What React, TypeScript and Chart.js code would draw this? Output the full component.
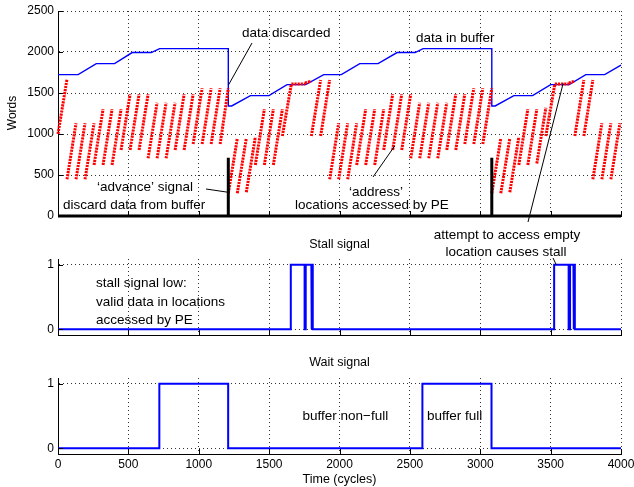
import React, { useEffect, useRef } from 'react';
import { Chart, registerables } from 'chart.js';

Chart.register(...registerables);

const FONT = '"Liberation Sans", Arial, Helvetica, sans-serif';
const GRID = 'rgba(0,0,0,0.8)';

// ---------------- data ----------------
const cycleTicks = [0, 500, 1000, 1500, 2000, 2500, 3000, 3500, 4000];
const wordTicks = [0, 500, 1000, 1500, 2000, 2500];
const signalTicks = [0, 1];

// data in buffer (blue)
const bufferT = [0, 143, 272, 402, 527, 663, 722, 1210, 1210, 1234, 1367, 1499, 1627, 1760, 1888, 2013, 2144, 2274, 2409, 2537, 2594, 3082, 3082, 3106, 3239, 3372, 3500, 3632, 3750, 3884, 4000];
const bufferWords = [1724, 1724, 1858, 1858, 1993, 1993, 2041, 2041, 1342, 1342, 1468, 1468, 1602, 1602, 1724, 1724, 1858, 1858, 1993, 1993, 2041, 2041, 1342, 1342, 1468, 1468, 1602, 1602, 1724, 1724, 1840];

// 'address' bursts (red): start cycle, end cycle, low word, high word
const addrStart = [0, 64, 128, 192, 256, 320, 384, 448, 512, 576, 640, 704, 768, 832, 896, 960, 1024, 1088, 1152,
  1210, 1274, 1338, 1402, 1466, 1530, 1594, 1658, 1755, 1800, 1866, 1930, 1994, 2058, 2122, 2186, 2250, 2314, 2378, 2442, 2506, 2570, 2634, 2698, 2762, 2826, 2890, 2954, 3018,
  3082, 3146, 3210, 3274, 3338, 3402, 3466, 3530, 3630, 3672, 3736, 3800, 3864, 3928];
const addrEnd = [64, 128, 192, 256, 320, 384, 448, 512, 576, 640, 704, 768, 832, 896, 960, 1024, 1088, 1152, 1210,
  1274, 1338, 1402, 1466, 1530, 1594, 1658, 1755, 1800, 1866, 1930, 1994, 2058, 2122, 2186, 2250, 2314, 2378, 2442, 2506, 2570, 2634, 2698, 2762, 2826, 2890, 2954, 3018, 3082,
  3146, 3210, 3274, 3338, 3402, 3466, 3530, 3630, 3672, 3736, 3800, 3864, 3928, 3992];
const addrLow = [1000, 447, 447, 447, 622, 622, 622, 805, 805, 805, 703, 703, 703, 805, 805, 877, 877, 877, 877,
  277, 277, 290, 622, 622, 622, 975, 1610, 1622, 975, 975, 447, 447, 447, 622, 622, 622, 805, 805, 805, 703, 703, 703, 703, 805, 805, 877, 877, 877,
  277, 277, 290, 622, 622, 640, 975, 1610, 1622, 975, 975, 447, 447, 447];
const addrHigh = [1670, 1130, 1130, 1130, 1301, 1301, 1301, 1484, 1484, 1484, 1382, 1382, 1382, 1484, 1484, 1557, 1557, 1557, 1557,
  947, 947, 963, 1301, 1301, 1301, 1610, 1610, 1645, 1658, 1658, 1130, 1130, 1130, 1301, 1301, 1301, 1484, 1484, 1484, 1382, 1382, 1382, 1382, 1484, 1484, 1557, 1557, 1557,
  947, 947, 963, 1301, 1301, 1320, 1610, 1610, 1645, 1658, 1658, 1130, 1130, 1130];

// 'advance' signal (black)
const advanceT = [0, 1210, 1210, 1210, 3082, 3082, 3082, 4000];
const advanceWords = [0, 0, 711, 0, 0, 711, 0, 0];

// stall signal
const stallT = [0, 1654, 1654, 1752, 1752, 1760, 1760, 1800, 1800, 1804, 1804, 1810, 1810, 3525, 3525, 3628, 3628, 3638, 3638, 3662, 3662, 3666, 3666, 3672, 3672, 4000];
const stallV = [0, 0, 1, 1, 0, 0, 1, 1, 0, 0, 1, 1, 0, 0, 1, 1, 0, 0, 1, 1, 0, 0, 1, 1, 0, 0];

// wait signal
const waitT = [0, 720, 720, 1209, 1209, 2589, 2589, 3080, 3080, 4000];
const waitV = [0, 0, 1, 1, 0, 0, 1, 1, 0, 0];

// ---------------- helpers ----------------
function pts(xs: number[], ys: number[]) {
  return xs.map((x, i) => ({ x, y: ys[i] }));
}

function addressPoints() {
  const out: { x: number; y: number | null }[] = [];
  for (let i = 0; i < addrStart.length; i++) {
    out.push({ x: addrStart[i], y: addrLow[i] });
    out.push({ x: addrEnd[i], y: addrHigh[i] });
    out.push({ x: addrEnd[i], y: null });
  }
  return out;
}

type Note = { text: string; x: number; y: number; align?: CanvasTextAlign; size?: number; rotate?: boolean };
type Pointer = { from: [number, number]; to: [number, number]; toData?: boolean };

function extrasPlugin(id: string, notes: Note[], pointers: Pointer[]) {
  return {
    id,
    afterDraw(chart: any) {
      const ctx: CanvasRenderingContext2D = chart.ctx;
      const { left, bottom } = chart.chartArea;
      const xs = chart.scales.x;
      const ys = chart.scales.y;
      ctx.save();
      // inward tick marks
      ctx.strokeStyle = '#000';
      ctx.lineWidth = 1;
      ctx.beginPath();
      for (const t of cycleTicks) {
        const px = Math.round(xs.getPixelForValue(t)) + 0.5;
        ctx.moveTo(px, bottom);
        ctx.lineTo(px, bottom - 5);
      }
      for (const t of ys.ticks) {
        const py = Math.round(ys.getPixelForValue(t.value)) + 0.5;
        ctx.moveTo(left, py);
        ctx.lineTo(left + 5, py);
      }
      ctx.stroke();
      // pointer lines
      ctx.lineWidth = 1;
      for (const p of pointers) {
        const tx = p.toData ? xs.getPixelForValue(p.to[0]) : p.to[0];
        const ty = p.toData ? ys.getPixelForValue(p.to[1]) : p.to[1];
        ctx.beginPath();
        ctx.moveTo(p.from[0], p.from[1]);
        ctx.lineTo(tx, ty);
        ctx.stroke();
      }
      // texts
      ctx.fillStyle = '#000';
      ctx.textBaseline = 'middle';
      for (const n of notes) {
        ctx.font = `${n.size ?? 13.5}px ${FONT}`;
        ctx.textAlign = n.align ?? 'left';
        if (n.rotate) {
          ctx.save();
          ctx.translate(n.x, n.y);
          ctx.rotate(-Math.PI / 2);
          ctx.fillText(n.text, 0, 0);
          ctx.restore();
        } else {
          ctx.fillText(n.text, n.x, n.y);
        }
      }
      ctx.restore();
    },
  };
}

type PanelOpts = { top: number; bottom: number; showX: boolean; ymin: number; ymax: number; yticks: number[] };

function panelOptions(p: PanelOpts): any {
  return {
    responsive: false,
    animation: false,
    devicePixelRatio: 1,
    events: [],
    layout: { padding: { left: 0, right: 13, top: p.top, bottom: p.bottom } },
    plugins: { legend: { display: false }, tooltip: { enabled: false }, title: { display: false } },
    elements: { point: { radius: 0 }, line: { tension: 0 } },
    scales: {
      x: {
        type: 'linear',
        min: 0,
        max: 4000,
        afterBuildTicks: (s: any) => {
          s.ticks = cycleTicks.map((v) => ({ value: v }));
        },
        afterFit: (s: any) => {
          s.height = p.showX ? 33 : 0;
          s.paddingLeft = 0;
          s.paddingRight = 0;
        },
        grid: { color: GRID, lineWidth: 1, drawTicks: false },
        border: { display: true, color: '#000', width: 1, dash: [1, 3] },
        ticks: {
          display: p.showX,
          padding: 3,
          color: '#000',
          font: { family: FONT, size: 12 },
          maxRotation: 0,
          autoSkip: false,
          callback: (v: any) => String(v),
        },
      },
      y: {
        type: 'linear',
        min: p.ymin,
        max: p.ymax,
        afterBuildTicks: (s: any) => {
          s.ticks = p.yticks.map((v) => ({ value: v }));
        },
        afterFit: (s: any) => {
          s.width = 58;
          s.paddingTop = 0;
          s.paddingBottom = 0;
        },
        grid: { color: GRID, lineWidth: 1, drawTicks: false },
        border: { display: true, color: '#000', width: 1, dash: [1, 3] },
        ticks: {
          padding: 4,
          color: '#000',
          font: { family: FONT, size: 12 },
          callback: (v: any) => String(v),
        },
      },
    },
  };
}

function topConfig(): any {
  const notes: Note[] = [
    { text: 'data discarded', x: 242, y: 33 },
    { text: 'data in buffer', x: 416, y: 38 },
    { text: '\u2018advance\u2019 signal', x: 97, y: 187 },
    { text: 'discard data from buffer', x: 63, y: 205 },
    { text: '\u2018address\u2019', x: 349, y: 192 },
    { text: 'locations accessed by PE', x: 295, y: 205 },
    { text: 'attempt to access empty', x: 507, y: 235, align: 'center' },
    { text: 'location causes stall', x: 506, y: 252, align: 'center' },
    { text: 'Words', x: 13, y: 113, align: 'center', size: 12, rotate: true },
  ];
  const pointers: Pointer[] = [
    { from: [252, 43], to: [1212, 1600], toData: true },
    { from: [206, 189], to: [1207, 290], toData: true },
    { from: [373, 177], to: [2392, 854], toData: true },
    { from: [528, 222], to: [3589, 1618], toData: true },
  ];
  return {
    type: 'line',
    data: {
      datasets: [
        { label: 'advance', data: pts(advanceT, advanceWords), borderColor: '#000', borderWidth: 3, pointRadius: 0, clip: false },
        {
          label: 'address',
          data: addressPoints(),
          borderColor: '#ff0000',
          borderWidth: 3,
          borderDash: [2.2, 0.9],
          pointRadius: 0,
          spanGaps: false,
          clip: false,
        },
        { label: 'buffer', data: pts(bufferT, bufferWords), borderColor: '#0000ff', borderWidth: 1.4, pointRadius: 0, clip: false },
      ],
    },
    options: panelOptions({ top: 11, bottom: 271, showX: false, ymin: 0, ymax: 2500, yticks: wordTicks }),
    plugins: [extrasPlugin('topExtras', notes, pointers)],
  };
}

function stallConfig(): any {
  const notes: Note[] = [
    { text: 'Stall signal', x: 339.5, y: 245, align: 'center', size: 12.5 },
    { text: 'stall signal low:', x: 96, y: 283 },
    { text: 'valid data in locations', x: 96, y: 302 },
    { text: 'accessed by PE', x: 96, y: 320 },
  ];
  const pointers: Pointer[] = [{ from: [553, 258], to: [3540, 1], toData: true }];
  return {
    type: 'line',
    data: {
      datasets: [{ label: 'stall', data: pts(stallT, stallV), borderColor: '#0000ff', borderWidth: 2, pointRadius: 0, clip: false }],
    },
    options: panelOptions({ top: 259, bottom: 152, showX: false, ymin: -0.09, ymax: 1.09, yticks: signalTicks }),
    plugins: [extrasPlugin('stallExtras', notes, pointers)],
  };
}

function waitConfig(): any {
  const notes: Note[] = [
    { text: 'Wait signal', x: 339.5, y: 363, align: 'center', size: 12.5 },
    { text: 'buffer non\u2212full', x: 302.5, y: 416 },
    { text: 'buffer full', x: 427, y: 416 },
    { text: 'Time (cycles)', x: 339.5, y: 480, align: 'center', size: 12.5 },
  ];
  return {
    type: 'line',
    data: {
      datasets: [{ label: 'wait', data: pts(waitT, waitV), borderColor: '#0000ff', borderWidth: 2, pointRadius: 0, clip: false }],
    },
    options: panelOptions({ top: 378, bottom: 0, showX: true, ymin: -0.09, ymax: 1.09, yticks: signalTicks }),
    plugins: [extrasPlugin('waitExtras', notes, [])],
  };
}

export default function App() {
  const topRef = useRef<HTMLCanvasElement>(null);
  const stallRef = useRef<HTMLCanvasElement>(null);
  const waitRef = useRef<HTMLCanvasElement>(null);

  useEffect(() => {
    const charts: Chart[] = [];
    if (topRef.current) charts.push(new Chart(topRef.current, topConfig()));
    if (stallRef.current) charts.push(new Chart(stallRef.current, stallConfig()));
    if (waitRef.current) charts.push(new Chart(waitRef.current, waitConfig()));
    return () => charts.forEach((c) => c.destroy());
  }, []);

  const cs: React.CSSProperties = { position: 'absolute', left: 0, top: 0, width: 634, height: 487 };
  return (
    <div style={{ position: 'fixed', left: 0, top: 0, width: 634, height: 487, background: '#fff', overflow: 'hidden' }}>
      <canvas ref={topRef} width={634} height={487} style={cs} />
      <canvas ref={stallRef} width={634} height={487} style={cs} />
      <canvas ref={waitRef} width={634} height={487} style={cs} />
    </div>
  );
}
